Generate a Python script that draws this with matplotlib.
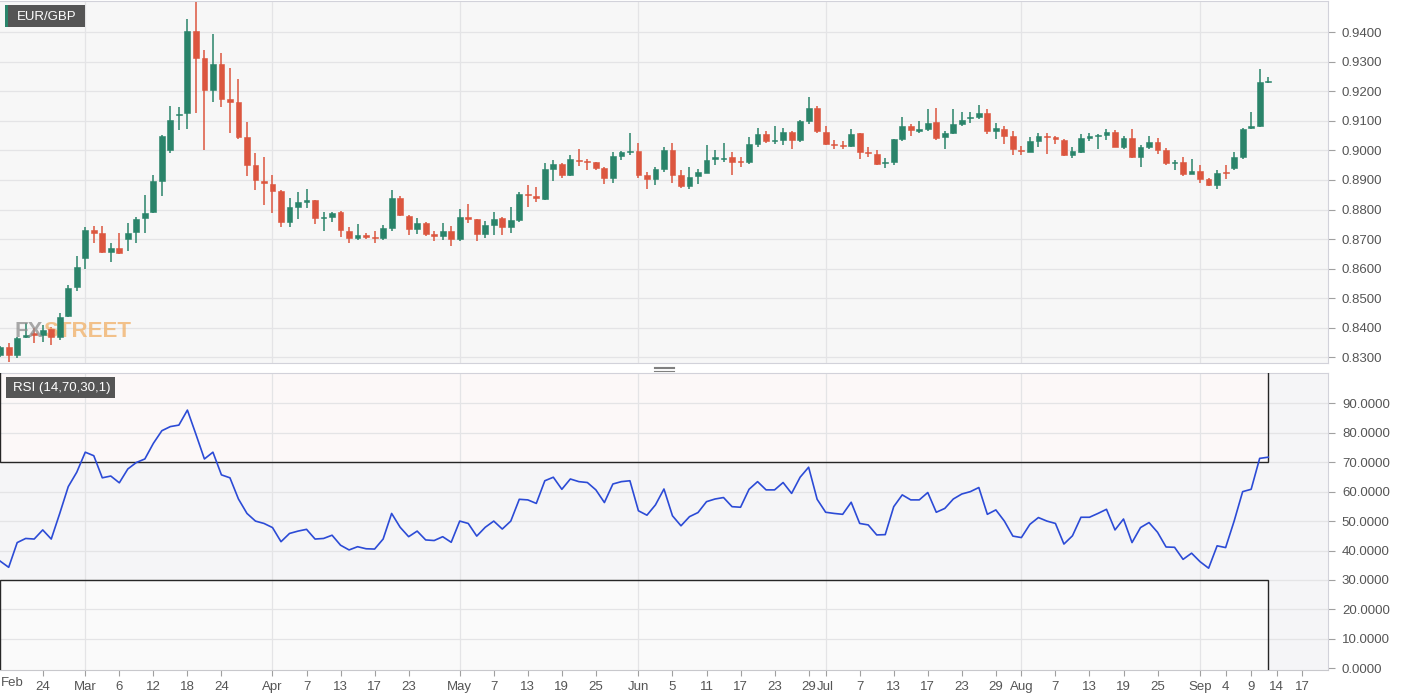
import numpy as np
import pandas as pd
import matplotlib
matplotlib.use('Agg')
import matplotlib.pyplot as plt
from matplotlib.patches import Rectangle
from matplotlib.lines import Line2D

plt.rcParams['font.family'] = ['Liberation Sans', 'DejaVu Sans']

##############
# DATA (EUR/GBP daily, 2020)
##############

start_date = '2020-02-17'

opens = [0.8308, 0.8334, 0.8308, 0.8368, 0.8381, 0.8376, 0.8395, 0.8370, 0.8440, 0.8537,
         0.8635, 0.8731, 0.8720, 0.8658, 0.8669, 0.8699, 0.8723, 0.8770, 0.8791, 0.8898,
         0.9002, 0.9118, 0.9126, 0.9402, 0.9311, 0.9205, 0.9292, 0.9175, 0.9163, 0.9044,
         0.8950, 0.8898, 0.8887, 0.8861, 0.8759, 0.8810, 0.8826, 0.8831, 0.8770, 0.8774,
         0.8790, 0.8729, 0.8703, 0.8714, 0.8708, 0.8703, 0.8739, 0.8838, 0.8779, 0.8734,
         0.8756, 0.8718, 0.8711, 0.8726, 0.8700, 0.8775, 0.8767, 0.8718, 0.8749, 0.8771,
         0.8741, 0.8765, 0.8853, 0.8847, 0.8835, 0.8938, 0.8955, 0.8917, 0.8968, 0.8964,
         0.8960, 0.8941, 0.8908, 0.8982, 0.8993, 0.8999, 0.8915, 0.8903, 0.8936, 0.9002,
         0.8917, 0.8880, 0.8914, 0.8925, 0.8970, 0.8971, 0.8977, 0.8964, 0.8959, 0.9022,
         0.9056, 0.9032, 0.9036, 0.9061, 0.9036, 0.9098, 0.9143, 0.9061, 0.9021, 0.9019,
         0.9015, 0.9058, 0.8995, 0.8987, 0.8956, 0.8959, 0.9038, 0.9083, 0.9067, 0.9071,
         0.9095, 0.9045, 0.9058, 0.9089, 0.9108, 0.9114, 0.9126, 0.9064, 0.9072, 0.9049,
         0.9002, 0.8996, 0.9032, 0.9049, 0.9044, 0.9036, 0.8983, 0.8996, 0.9042, 0.9047,
         0.9053, 0.9062, 0.9013, 0.9041, 0.8977, 0.9013, 0.9027, 0.9002, 0.8957, 0.8959,
         0.8919, 0.8931, 0.8902, 0.8883, 0.8926, 0.8940, 0.8979, 0.9075, 0.9081, 0.9232]

highs = [0.8340, 0.8350, 0.8370, 0.8417, 0.8398, 0.8410, 0.8404, 0.8449, 0.8545, 0.8643,
         0.8742, 0.8745, 0.8745, 0.8686, 0.8720, 0.8756, 0.8774, 0.8849, 0.8915, 0.9053,
         0.9151, 0.9146, 0.9444, 0.9500, 0.9340, 0.9393, 0.9329, 0.9278, 0.9241, 0.9095,
         0.8990, 0.8977, 0.8915, 0.8866, 0.8838, 0.8860, 0.8869, 0.8833, 0.8791, 0.8791,
         0.8795, 0.8742, 0.8752, 0.8722, 0.8726, 0.8748, 0.8867, 0.8844, 0.8780, 0.8771,
         0.8757, 0.8726, 0.8756, 0.8745, 0.8801, 0.8819, 0.8767, 0.8762, 0.8793, 0.8776,
         0.8810, 0.8858, 0.8884, 0.8875, 0.8957, 0.8966, 0.8957, 0.8985, 0.9003, 0.8970,
         0.8962, 0.8943, 0.8996, 0.8999, 0.9058, 0.9024, 0.8928, 0.8943, 0.9011, 0.9024,
         0.8934, 0.8943, 0.8936, 0.9019, 0.9002, 0.9026, 0.8996, 0.8979, 0.9045, 0.9075,
         0.9064, 0.9081, 0.9075, 0.9067, 0.9101, 0.9180, 0.9151, 0.9081, 0.9036, 0.9030,
         0.9072, 0.9060, 0.9013, 0.9002, 0.8973, 0.9040, 0.9114, 0.9090, 0.9098, 0.9139,
         0.9143, 0.9064, 0.9139, 0.9128, 0.9131, 0.9154, 0.9139, 0.9092, 0.9081, 0.9064,
         0.9015, 0.9045, 0.9060, 0.9060, 0.9049, 0.9038, 0.9013, 0.9055, 0.9058, 0.9055,
         0.9072, 0.9069, 0.9047, 0.9072, 0.9019, 0.9047, 0.9041, 0.9007, 0.8968, 0.8977,
         0.8970, 0.8951, 0.8906, 0.8934, 0.8951, 0.8996, 0.9075, 0.9131, 0.9275, 0.9248]

lows = [0.8300, 0.8285, 0.8297, 0.8364, 0.8347, 0.8353, 0.8342, 0.8359, 0.8438, 0.8526,
        0.8598, 0.8686, 0.8652, 0.8624, 0.8650, 0.8661, 0.8686, 0.8720, 0.8787, 0.8844,
        0.8990, 0.9069, 0.9072, 0.9126, 0.9002, 0.9165, 0.9148, 0.9058, 0.9038, 0.8912,
        0.8866, 0.8816, 0.8787, 0.8742, 0.8742, 0.8767, 0.8804, 0.8751, 0.8729, 0.8759,
        0.8708, 0.8686, 0.8697, 0.8700, 0.8686, 0.8697, 0.8729, 0.8778, 0.8713, 0.8718,
        0.8711, 0.8693, 0.8697, 0.8675, 0.8695, 0.8756, 0.8692, 0.8703, 0.8714, 0.8714,
        0.8722, 0.8759, 0.8810, 0.8827, 0.8831, 0.8898, 0.8906, 0.8914, 0.8948, 0.8934,
        0.8932, 0.8886, 0.8891, 0.8968, 0.8985, 0.8906, 0.8869, 0.8883, 0.8928, 0.8891,
        0.8872, 0.8868, 0.8887, 0.8923, 0.8951, 0.8959, 0.8917, 0.8943, 0.8954, 0.9011,
        0.9024, 0.9022, 0.9019, 0.9004, 0.9027, 0.9090, 0.9058, 0.9019, 0.9004, 0.9004,
        0.9011, 0.8970, 0.8979, 0.8951, 0.8940, 0.8951, 0.9033, 0.9049, 0.9058, 0.9064,
        0.9036, 0.9004, 0.9055, 0.9083, 0.9092, 0.9105, 0.9055, 0.9038, 0.9022, 0.8985,
        0.8985, 0.8993, 0.9013, 0.8988, 0.9022, 0.8982, 0.8974, 0.8990, 0.9033, 0.9005,
        0.9036, 0.9011, 0.9005, 0.8974, 0.8945, 0.9004, 0.8988, 0.8949, 0.8934, 0.8914,
        0.8919, 0.8891, 0.8878, 0.8869, 0.8902, 0.8932, 0.8970, 0.9072, 0.9078, 0.9227]

closes = [0.8336, 0.8308, 0.8364, 0.8376, 0.8376, 0.8393, 0.8370, 0.8438, 0.8534, 0.8605,
          0.8731, 0.8722, 0.8658, 0.8669, 0.8652, 0.8722, 0.8768, 0.8787, 0.8897, 0.9047,
          0.9103, 0.9124, 0.9402, 0.9312, 0.9205, 0.9292, 0.9175, 0.9164, 0.9045, 0.8951,
          0.8900, 0.8889, 0.8863, 0.8759, 0.8810, 0.8824, 0.8831, 0.8770, 0.8774, 0.8787,
          0.8731, 0.8703, 0.8714, 0.8706, 0.8705, 0.8737, 0.8838, 0.8780, 0.8734, 0.8754,
          0.8717, 0.8712, 0.8726, 0.8701, 0.8774, 0.8767, 0.8718, 0.8748, 0.8768, 0.8742,
          0.8765, 0.8852, 0.8849, 0.8838, 0.8938, 0.8955, 0.8917, 0.8970, 0.8963, 0.8959,
          0.8942, 0.8908, 0.8982, 0.8993, 0.8999, 0.8917, 0.8903, 0.8936, 0.9002, 0.8917,
          0.8880, 0.8911, 0.8926, 0.8968, 0.8979, 0.8975, 0.8962, 0.8959, 0.9022, 0.9056,
          0.9033, 0.9036, 0.9061, 0.9036, 0.9098, 0.9143, 0.9064, 0.9022, 0.9019, 0.9015,
          0.9056, 0.8993, 0.8990, 0.8954, 0.8962, 0.9038, 0.9083, 0.9069, 0.9071, 0.9094,
          0.9041, 0.9058, 0.9089, 0.9103, 0.9112, 0.9126, 0.9064, 0.9075, 0.9050, 0.9005,
          0.8999, 0.9033, 0.9049, 0.9044, 0.9039, 0.8983, 0.8999, 0.9043, 0.9047, 0.9053,
          0.9062, 0.9013, 0.9041, 0.8979, 0.9013, 0.9027, 0.9002, 0.8957, 0.8960, 0.8919,
          0.8931, 0.8902, 0.8883, 0.8925, 0.8923, 0.8979, 0.9073, 0.9083, 0.9230, 0.9236]

rsi = [36.4, 34.3, 42.7, 44.1, 43.9, 47.0, 43.9, 52.6, 61.7, 66.6,
       73.4, 72.2, 64.7, 65.3, 63.0, 67.7, 69.9, 71.1, 76.4, 80.7,
       82.1, 82.6, 87.7, 79.5, 71.1, 73.4, 65.7, 64.7, 57.5, 52.6,
       50.0, 49.2, 47.8, 43.0, 45.8, 46.6, 47.2, 43.9, 44.1, 45.2,
       41.8, 40.2, 41.3, 40.6, 40.5, 43.9, 52.6, 47.9, 44.7, 46.6,
       43.6, 43.4, 44.7, 42.8, 50.0, 49.2, 44.9, 47.9, 50.0, 47.3,
       50.0, 57.4, 57.2, 56.0, 63.7, 64.9, 60.8, 64.3, 63.4, 63.1,
       60.6, 56.3, 62.6, 63.4, 63.7, 53.5, 52.0, 55.5, 60.9, 51.8,
       48.4, 51.5, 52.9, 56.6, 57.5, 58.0, 54.9, 54.7, 60.8, 63.4,
       60.6, 60.6, 63.1, 59.4, 64.9, 68.3, 57.4, 53.0, 52.6, 52.3,
       56.4, 49.2, 48.7, 45.3, 45.4, 54.9, 58.9, 57.2, 57.2, 59.7,
       53.0, 54.3, 57.5, 59.2, 60.0, 61.4, 52.3, 53.8, 50.0, 44.9,
       44.4, 48.9, 51.2, 50.0, 49.2, 42.2, 45.0, 51.3, 51.3, 52.6,
       54.0, 47.0, 50.7, 42.7, 47.8, 49.5, 46.2, 41.2, 41.1, 37.0,
       39.1, 36.2, 34.0, 41.6, 41.0, 50.0, 60.0, 60.8, 71.3, 71.7]

tick_dates = ['2020-02-24', '2020-03-02', '2020-03-06', '2020-03-12', '2020-03-18', '2020-03-24',
              '2020-04-01', '2020-04-07', '2020-04-13', '2020-04-17', '2020-04-23',
              '2020-05-01', '2020-05-07', '2020-05-13', '2020-05-19', '2020-05-25',
              '2020-06-01', '2020-06-05', '2020-06-11', '2020-06-17', '2020-06-23', '2020-06-29',
              '2020-07-01', '2020-07-07', '2020-07-13', '2020-07-17', '2020-07-23', '2020-07-29',
              '2020-08-03', '2020-08-07', '2020-08-13', '2020-08-19', '2020-08-25',
              '2020-09-01', '2020-09-04', '2020-09-09', '2020-09-14', '2020-09-17']
tick_labels = ['24', 'Mar', '6', '12', '18', '24',
               'Apr', '7', '13', '17', '23',
               'May', '7', '13', '19', '25',
               'Jun', '5', '11', '17', '23', '29',
               'Jul', '7', '13', '17', '23', '29',
               'Aug', '7', '13', '19', '25',
               'Sep', '4', '9', '14', '17']
month_starts = ['2020-03-02', '2020-04-01', '2020-05-01', '2020-06-01',
                '2020-07-01', '2020-08-03', '2020-09-01']

price_ticks = [0.83, 0.84, 0.85, 0.86, 0.87, 0.88, 0.89, 0.90, 0.91, 0.92, 0.93, 0.94]
rsi_ticks = [0, 10, 20, 30, 40, 50, 60, 70, 80, 90]


##############
# HELPERS
##############

W, H = 1405, 695
GREEN = '#2a846a'
RED = '#dc563f'
GRID = '#e4e4e6'
TXT = '#555555'

def fx(px):
    return px / W

def fy(py):
    return 1 - py / H

# weekday axis: candle index, future days included for the tick labels
all_days = pd.bdate_range(start_date, periods=160)
day_pos = {d: i for i, d in enumerate(all_days)}
def pos(d):
    return day_pos[pd.Timestamp(d)]

O = np.array(opens); Hi = np.array(highs); Lo = np.array(lows); C = np.array(closes)
x = np.arange(len(C))
xlim = (-0.02, 156.03)


##############
# FIGURE
##############

fig = plt.figure(figsize=(W / 100, H / 100), dpi=100, facecolor='white')
ax = fig.add_axes([0, fy(363), fx(1328), fy(1) - fy(363)])
ax_rsi = fig.add_axes([0, fy(670), fx(1328), fy(373) - fy(670)])

# --- price panel
ax.set_facecolor('#f7f7f7')
cols = np.where(C >= O, GREEN, RED)
ax.vlines(x, Lo, Hi, colors=cols, lw=1.1, zorder=3)
body = np.maximum(np.abs(C - O), 0.00035)
ax.bar(x, body, bottom=np.minimum(O, C), width=0.68, color=cols, edgecolor=cols, lw=0.4, zorder=4)

ax.set_xlim(*xlim)
ax.set_ylim(0.8281, 0.9505)
ax.yaxis.tick_right()
ax.set_yticks(price_ticks)
ax.set_yticklabels(['%.4f' % v for v in price_ticks])
ax.set_xticks([])
ax.grid(axis='y', color=GRID, lw=0.9)
for m in month_starts:
    ax.axvline(pos(m), color=GRID, lw=0.9, zorder=0)
ax.set_axisbelow(True)
ax.tick_params(axis='y', direction='out', length=5, color='#a0a0a0', labelcolor=TXT,
               labelsize=9.5, pad=5)
for s in ['top', 'right', 'bottom']:
    ax.spines[s].set_color('#d2d2da')
ax.spines['left'].set_visible(False)

# --- RSI panel
ax_rsi.set_facecolor('#f5f5f7')
last = x[-1]
# zone fills below the grid, zone outlines above it
ax_rsi.add_patch(Rectangle((xlim[0], 70), last - xlim[0], 40, facecolor='#fcf8f8',
                           edgecolor='none', zorder=1))
ax_rsi.add_patch(Rectangle((xlim[0], -10), last - xlim[0], 40, facecolor='#fafafa',
                           edgecolor='none', zorder=1))
ax_rsi.add_patch(Rectangle((xlim[0], 70), last - xlim[0], 40, fill=False,
                           edgecolor='#262626', lw=1, zorder=4))
ax_rsi.add_patch(Rectangle((xlim[0], -10), last - xlim[0], 40, fill=False,
                           edgecolor='#262626', lw=1, zorder=4))
ax_rsi.plot(x, rsi, color='#2c4bd6', lw=1.2, zorder=5)

ax_rsi.set_xlim(*xlim)
ax_rsi.set_ylim(-0.58, 100.3)
ax_rsi.yaxis.tick_right()
ax_rsi.set_yticks(rsi_ticks)
ax_rsi.set_yticklabels(['%.4f' % v for v in rsi_ticks])
ax_rsi.set_xticks([pos(d) for d in tick_dates])
ax_rsi.set_xticklabels(tick_labels)
for v in rsi_ticks[1:]:
    ax_rsi.axhline(v, color=GRID, lw=0.9, zorder=2)
for m in month_starts:
    ax_rsi.axvline(pos(m), color=GRID, lw=0.9, zorder=2)
ax_rsi.tick_params(axis='y', direction='out', length=5, color='#a0a0a0', labelcolor=TXT,
                   labelsize=9.5, pad=5)
ax_rsi.tick_params(axis='x', direction='out', length=4, color='#a0a0a0', labelcolor=TXT,
                   labelsize=9.5, pad=4)
for s in ['top', 'right']:
    ax_rsi.spines[s].set_color('#d2d2da')
ax_rsi.spines['bottom'].set_color('#c8c8cc')
ax_rsi.spines['left'].set_visible(False)

# leftmost month label sits against the edge
fig.text(fx(1), fy(683), 'Feb', ha='left', va='center', fontsize=9.5, color=TXT)

# --- decorations
fig.patches.append(Rectangle((fx(5), fy(27)), fx(80), fy(5) - fy(27), transform=fig.transFigure,
                             facecolor='#555555', edgecolor='none', zorder=10))
fig.patches.append(Rectangle((fx(5), fy(27)), fx(2.5), fy(5) - fy(27), transform=fig.transFigure,
                             facecolor=GREEN, edgecolor='none', zorder=11))
fig.text(fx(17), fy(16.5), 'EUR/GBP', ha='left', va='center', fontsize=9.5, color='white', zorder=12)

fig.patches.append(Rectangle((fx(6), fy(398)), fx(109), fy(377) - fy(398), transform=fig.transFigure,
                             facecolor='#555555', edgecolor='none', zorder=10))
fig.text(fx(13), fy(388), 'RSI (14,70,30,1)', ha='left', va='center', fontsize=9.5,
         color='white', zorder=12)

# FXStreet logo, "STREET" placed right after "FX"
t_fx = fig.text(fx(15), fy(331), 'FX', ha='left', va='center', fontsize=16, fontweight='bold',
                color='#8e8e8e', alpha=0.75)
ax.annotate('STREET', xy=(1, 0.5), xycoords=t_fx, ha='left', va='center', fontsize=16,
            fontweight='bold', color='#f1b066', alpha=0.75)

# panel splitter grip
for yy in (366.5, 368.5, 370.5):
    fig.add_artist(Line2D([fx(654), fx(674)], [fy(yy), fy(yy)], color='#808080', lw=0.8))

fig.savefig('out.png', dpi=100, facecolor='white')
